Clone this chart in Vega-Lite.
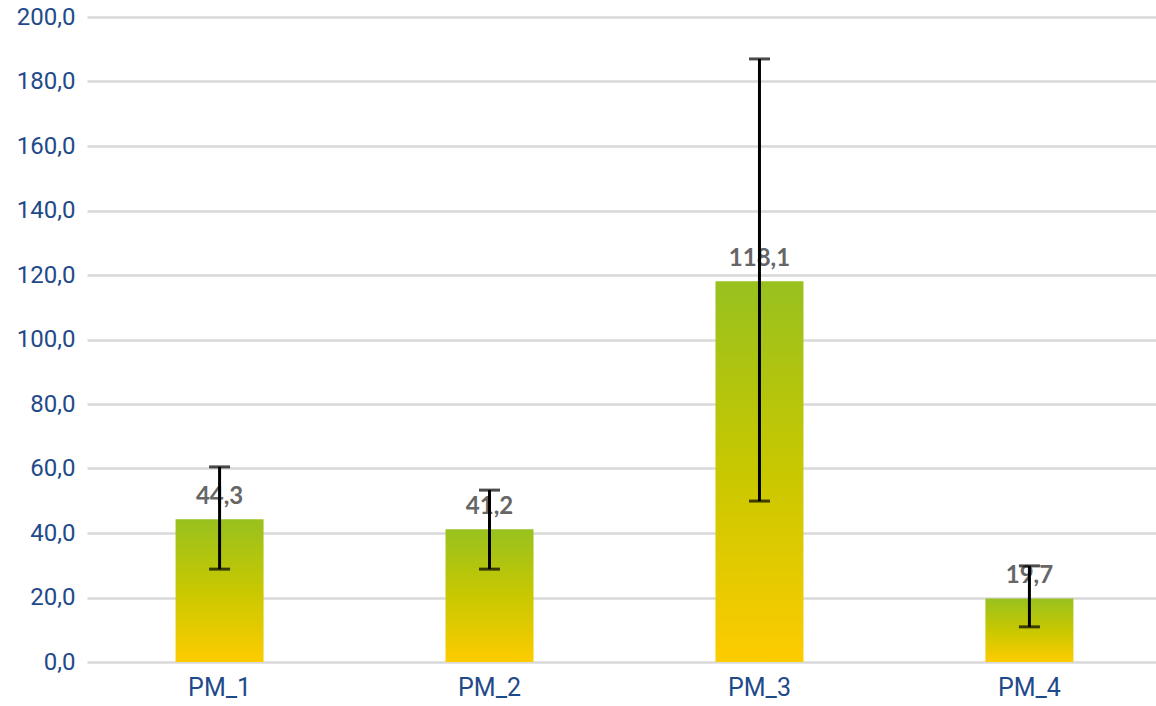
{
  "$schema": "https://vega.github.io/schema/vega-lite/v6.json",
  "width": 1069,
  "height": 645,
  "autosize": "none",
  "padding": {"left": 87, "top": 17, "right": 0, "bottom": 44},
  "background": "white",
  "data": {"values": [
    {"cat": "PM_1", "value": 44.3, "lo": 28.8, "hi": 60.5, "label": "44,3"},
    {"cat": "PM_2", "value": 41.2, "lo": 28.8, "hi": 53.3, "label": "41,2"},
    {"cat": "PM_3", "value": 118.1, "lo": 49.9, "hi": 187.0, "label": "118,1"},
    {"cat": "PM_4", "value": 19.7, "lo": 10.9, "hi": 29.8, "label": "19,7"}
  ]},
  "encoding": {
    "x": {"field": "cat", "type": "nominal", "sort": null,
      "scale": {"paddingInner": 0.674, "paddingOuter": 0.317},
      "axis": {"title": null, "labelAngle": 0, "domain": false, "ticks": false, "grid": false, "labelOffset": 3,
        "labelFont": "Roboto", "labelFontSize": 25, "labelColor": "#1f4a8a", "labelPadding": 13}}
  },
  "layer": [
    {
      "mark": {"type": "bar", "xOffset": 3, "color": {"gradient": "linear", "x1": 0, "y1": 1, "x2": 0, "y2": 0,
        "stops": [{"offset": 0, "color": "#fdcc00"}, {"offset": 0.5, "color": "#c8c800"}, {"offset": 1, "color": "#98c11f"}]}},
      "encoding": {
        "y": {"field": "value", "type": "quantitative",
          "scale": {"domain": [0, 200], "nice": false},
          "axis": {"title": null, "values": [0,20,40,60,80,100,120,140,160,180,200], "labelOverlap": false,
            "labelExpr": "replace(format(datum.value, '.1f'), '.', ',')",
            "domain": false, "ticks": false, "gridColor": "#d9d9d9", "gridWidth": 2.5,
            "labelFont": "Roboto", "labelFontSize": 24, "labelColor": "#1f4a8a", "labelPadding": 12}}
      }
    },
    {
      "mark": {"type": "text", "xOffset": 3, "font": "Lato", "fontWeight": "bold", "fontSize": 24, "color": "#666666", "baseline": "alphabetic", "dy": -15},
      "encoding": {"y": {"field": "value", "type": "quantitative"}, "text": {"field": "label"}}
    },
    {
      "mark": {"type": "rule", "xOffset": 3, "color": "black", "strokeWidth": 3},
      "encoding": {"y": {"field": "lo", "type": "quantitative"}, "y2": {"field": "hi"}}
    },
    {
      "mark": {"type": "tick", "xOffset": 3, "color": "black", "thickness": 3, "size": 21, "orient": "horizontal"},
      "encoding": {"y": {"field": "lo", "type": "quantitative"}}
    },
    {
      "mark": {"type": "tick", "xOffset": 3, "color": "black", "thickness": 3, "size": 21, "orient": "horizontal"},
      "encoding": {"y": {"field": "hi", "type": "quantitative"}}
    }
  ],
  "config": {"view": {"stroke": null}}
}
